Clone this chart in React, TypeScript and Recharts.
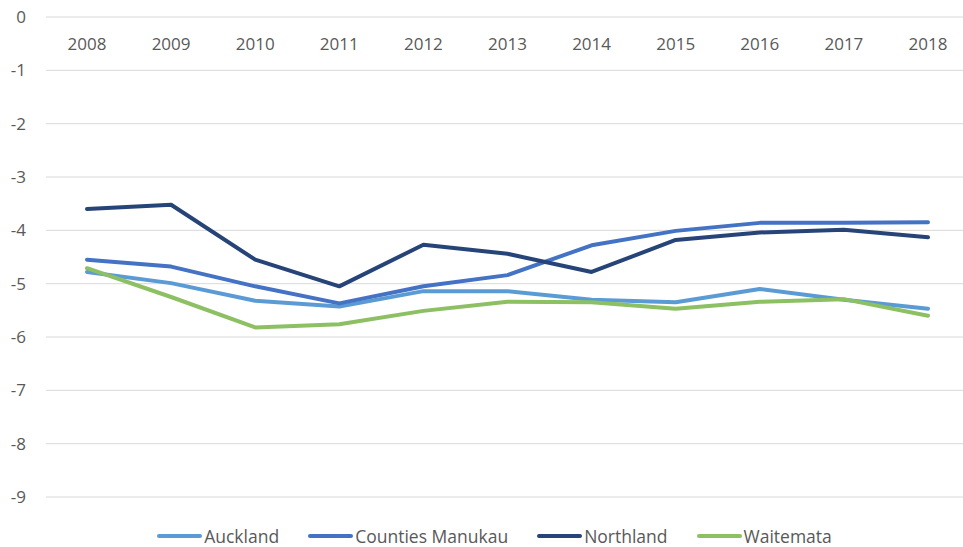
import { LineChart, Line, XAxis, YAxis, CartesianGrid, Legend } from 'recharts'

const years = ['2008', '2009', '2010', '2011', '2012', '2013', '2014', '2015', '2016', '2017', '2018']

const auckland = [-4.78, -4.99, -5.32, -5.43, -5.14, -5.14, -5.3, -5.35, -5.1, -5.3, -5.47]
const countiesManukau = [-4.55, -4.68, -5.05, -5.37, -5.05, -4.84, -4.28, -4.01, -3.86, -3.86, -3.85]
const northland = [-3.6, -3.52, -4.55, -5.05, -4.27, -4.44, -4.78, -4.18, -4.04, -3.99, -4.13]
const waitemata = [-4.71, -5.25, -5.82, -5.76, -5.51, -5.34, -5.35, -5.47, -5.34, -5.29, -5.6]

const yTicks = [0, -1, -2, -3, -4, -5, -6, -7, -8, -9]

const series = [
  { key: 'Auckland', values: auckland, color: '#5B9BD5' },
  { key: 'Counties Manukau', values: countiesManukau, color: '#4472C4' },
  { key: 'Northland', values: northland, color: '#264478' },
  { key: 'Waitemata', values: waitemata, color: '#8CC063' },
]

const data = years.map((year, i) => {
  const row: Record<string, string | number> = { year }
  series.forEach((s) => {
    row[s.key] = s.values[i]
  })
  return row
})

const FONT = '"Open Sans", sans-serif'

// category labels sit just under the 0 line, like Excel does it
function YearTick(props: any) {
  const { x, y, payload } = props
  return (
    <text x={x} y={y} dy={33} textAnchor="middle" fill="#595959" fontSize={17} fontFamily={FONT}>
      {payload.value}
    </text>
  )
}

function LegendContent() {
  return (
    <div
      style={{
        height: 50,
        boxSizing: 'border-box',
        paddingTop: 30,
        paddingLeft: 26,
        display: 'flex',
        justifyContent: 'center',
        alignItems: 'flex-start',
        gap: 29,
        fontFamily: FONT,
        fontSize: 17.5,
        lineHeight: '18px',
        color: '#595959',
        overflow: 'visible',
      }}
    >
      {series.map((s) => (
        <div key={s.key} style={{ display: 'flex', alignItems: 'center', height: 18 }}>
          <span
            style={{
              display: 'inline-block',
              width: 45,
              height: 4,
              borderRadius: 2,
              background: s.color,
              marginRight: 2,
            }}
          />
          <span>{s.key}</span>
        </div>
      ))}
    </div>
  )
}

export default function App() {
  return (
    <div style={{ position: 'absolute', left: 0, top: 0, background: '#fff' }}>
      <LineChart width={963} height={547} data={data} margin={{ top: 16, right: 0, bottom: 0, left: 0 }}>
        <CartesianGrid vertical={false} stroke="#d9d9d9" strokeWidth={1} />
        <XAxis
          dataKey="year"
          orientation="top"
          height={1}
          axisLine={false}
          tickLine={false}
          tickSize={0}
          tickMargin={0}
          padding={{ left: 41, right: 35 }}
          interval={0}
          tick={<YearTick />}
        />
        <YAxis
          domain={[-9, 0]}
          ticks={yTicks}
          width={46}
          axisLine={false}
          tickLine={false}
          tickSize={0}
          tickMargin={20}
          interval={0}
          tick={{ fill: '#595959', fontSize: 17, fontFamily: FONT }}
        />
        <Legend verticalAlign="bottom" content={<LegendContent />} />
        {series.map((s) => (
          <Line
            key={s.key}
            type="linear"
            dataKey={s.key}
            stroke={s.color}
            strokeWidth={4}
            strokeLinecap="round"
            strokeLinejoin="round"
            dot={false}
            activeDot={false}
            isAnimationActive={false}
          />
        ))}
      </LineChart>
    </div>
  )
}
